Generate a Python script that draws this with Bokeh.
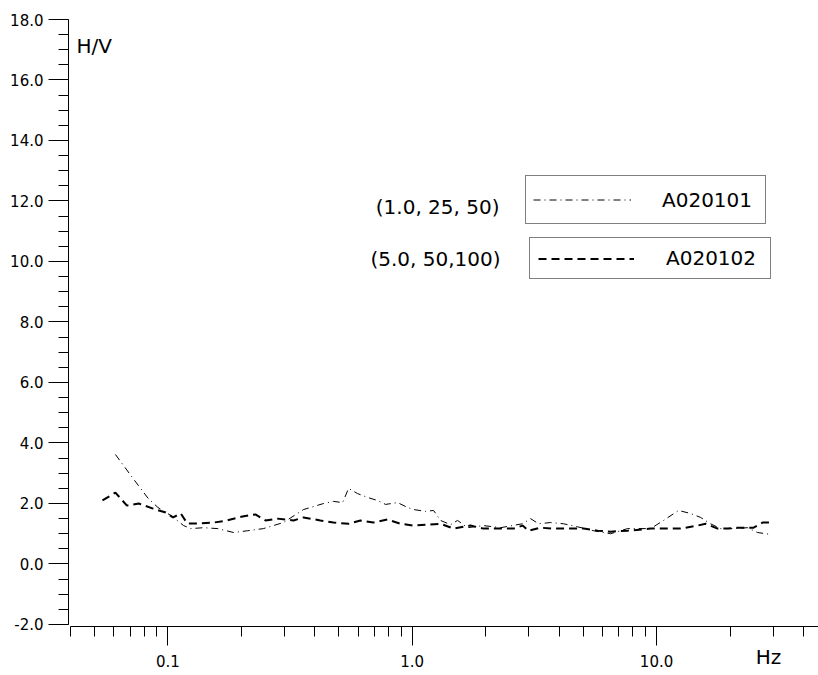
from bokeh.plotting import figure
from bokeh.models import (Range1d, FixedTicker, PrintfTickFormatter, Label,
                          Legend, LegendItem)
from bokeh.embed import file_html
from bokeh.resources import INLINE

# H/V spectral ratio curves (frequency in Hz, ratio H/V)
freq_a = [0.061, 0.072, 0.083, 0.091, 0.103, 0.116, 0.124, 0.140, 0.160, 0.186,
          0.212, 0.246, 0.297, 0.359, 0.434, 0.476, 0.519, 0.549, 0.597, 0.656,
          0.721, 0.778, 0.871, 0.957, 1.012, 1.134, 1.223, 1.306, 1.435, 1.533,
          1.684, 1.958, 2.298, 2.829, 3.050, 3.289, 3.682, 4.161, 4.747, 5.524,
          6.482, 7.609, 9.450, 10.68, 12.30, 13.78, 15.14, 16.63, 18.28, 20.66,
          23.58, 25.91, 29.29]
hv_a = [3.62, 2.83, 2.17, 1.87, 1.60, 1.27, 1.17, 1.20, 1.17, 1.04,
        1.10, 1.17, 1.37, 1.80, 2.00, 2.07, 2.03, 2.50, 2.33, 2.20,
        2.10, 1.97, 2.03, 1.87, 1.80, 1.74, 1.77, 1.44, 1.30, 1.44,
        1.20, 1.27, 1.20, 1.33, 1.50, 1.33, 1.37, 1.33, 1.23, 1.10,
        1.00, 1.17, 1.17, 1.44, 1.77, 1.67, 1.54, 1.33, 1.17, 1.17,
        1.20, 1.04, 0.98]

freq_b = [0.054, 0.061, 0.068, 0.076, 0.087, 0.098, 0.105, 0.113, 0.120, 0.136,
          0.154, 0.175, 0.202, 0.228, 0.251, 0.281, 0.327, 0.359, 0.421, 0.476,
          0.549, 0.614, 0.694, 0.792, 0.896, 1.012, 1.155, 1.306, 1.476, 1.732,
          1.958, 2.298, 2.599, 2.829, 2.992, 3.351, 3.789, 4.446, 5.026, 5.735,
          6.482, 7.609, 9.450, 10.68, 12.54, 14.72, 15.87, 17.77, 19.53, 21.46,
          24.95, 27.16, 30.13]
hv_b = [2.10, 2.36, 1.93, 2.00, 1.83, 1.70, 1.54, 1.67, 1.34, 1.34,
        1.37, 1.44, 1.57, 1.64, 1.44, 1.50, 1.44, 1.54, 1.44, 1.37,
        1.33, 1.44, 1.37, 1.47, 1.33, 1.27, 1.30, 1.33, 1.17, 1.27,
        1.17, 1.17, 1.17, 1.27, 1.10, 1.20, 1.17, 1.17, 1.17, 1.10,
        1.07, 1.10, 1.17, 1.17, 1.17, 1.27, 1.33, 1.17, 1.17, 1.20,
        1.20, 1.37, 1.37]

series_names = ["A020101", "A020102"]
series_params = ["(1.0, 25, 50)", "(5.0, 50,100)"]

x_major = [0.1, 1.0, 10.0]
x_major_text = ["0.1", "1.0", "10.0"]
x_minor = [0.04, 0.05, 0.06, 0.07, 0.08, 0.09,
           0.2, 0.3, 0.4, 0.5, 0.6, 0.7, 0.8, 0.9,
           2, 3, 4, 5, 6, 7, 8, 9, 20, 30, 40]
y_major = [-2, 0, 2, 4, 6, 8, 10, 12, 14, 16, 18]
y_minor = [v / 2 for v in range(-4, 37)]

FONT = "DejaVu Sans"
Y_MIN, Y_MAX = -2, 18

# The frame runs down to the bottom edge of the page so that the frequency
# axis (drawn at a fixed location just under y = -2) and its unit title sit
# inside it; the H/V axis itself is bounded to -2 .. 18.
p = figure(width=818, height=675, x_axis_type="log",
           x_range=Range1d(0.0392, 46.0), y_range=Range1d(-3.686, Y_MAX),
           output_backend="svg", toolbar_location=None)
p.min_border_left = 68
p.min_border_right = 0
p.min_border_top = 19
p.min_border_bottom = 0
p.outline_line_color = None
p.background_fill_color = "white"
p.border_fill_color = "white"
p.xgrid.visible = False
p.ygrid.visible = False

# x axis (log frequency)
xa = p.xaxis[0]
xa.fixed_location = Y_MIN - 0.07
xa.bounds = (0.04, 46.0)
xa.ticker = FixedTicker(ticks=x_major, minor_ticks=x_minor)
xa.major_label_overrides = dict(zip(x_major, x_major_text))
xa.major_tick_in = 0
xa.major_tick_out = 19
xa.minor_tick_in = 0
xa.minor_tick_out = 10
xa.major_label_standoff = 9
xa.major_label_text_font = FONT
xa.major_label_text_font_size = "15px"
xa.major_label_text_color = "black"
xa.axis_line_color = "black"
xa.major_tick_line_color = "black"
xa.minor_tick_line_color = "black"

# y axis (H/V ratio)
ya = p.yaxis[0]
ya.bounds = (Y_MIN, Y_MAX)
ya.ticker = FixedTicker(ticks=y_major, minor_ticks=y_minor)
ya.formatter = PrintfTickFormatter(format="%.1f")
ya.major_tick_in = 0
ya.major_tick_out = 20
ya.minor_tick_in = 0
ya.minor_tick_out = 10
ya.major_label_standoff = 5
ya.major_label_text_font = FONT
ya.major_label_text_font_size = "15px"
ya.major_label_text_color = "black"
ya.axis_line_color = "black"
ya.major_tick_line_color = "black"
ya.minor_tick_line_color = "black"

ra = p.line(freq_a, hv_a, line_color="black", line_width=1,
            line_dash="7 4 1 4")
rb = p.line(freq_b, hv_b, line_color="black", line_width=2,
            line_dash="8 5")

# one boxed legend per series, with its processing parameters to the left
leg_a = Legend(items=[LegendItem(label=series_names[0], renderers=[ra])],
               location=(457, 451), padding=7, margin=0,
               glyph_width=98, glyph_height=33, label_standoff=31,
               label_width=96, label_height=33,
               label_text_font=FONT, label_text_font_size="20px",
               label_text_color="black",
               border_line_color="black", border_line_width=1,
               background_fill_alpha=1.0)
leg_b = Legend(items=[LegendItem(label=series_names[1], renderers=[rb])],
               location=(461, 396), padding=8, margin=0,
               glyph_width=96, glyph_height=21, label_standoff=32,
               label_width=96, label_height=21,
               label_text_font=FONT, label_text_font_size="20px",
               label_text_color="black",
               border_line_color="black", border_line_width=1,
               background_fill_alpha=1.0)
p.add_layout(leg_a)
p.add_layout(leg_b)

p.add_layout(Label(x=2.277, y=11.80, text=series_params[0],
                   text_align="right", text_baseline="middle",
                   text_font=FONT, text_font_size="20px", text_color="black"))
p.add_layout(Label(x=2.298, y=10.09, text=series_params[1],
                   text_align="right", text_baseline="middle",
                   text_font=FONT, text_font_size="20px", text_color="black"))

# axis titles
p.add_layout(Label(x=0.0423, y=17.14, text="H/V", text_align="left",
                   text_baseline="middle", text_font=FONT,
                   text_font_size="20px", text_color="black"))
p.add_layout(Label(x=28.7, y=-3.09, text="Hz", text_align="center",
                   text_baseline="middle", text_font=FONT,
                   text_font_size="20px", text_color="black"))

open("out.html", "w").write(file_html(p, INLINE))
